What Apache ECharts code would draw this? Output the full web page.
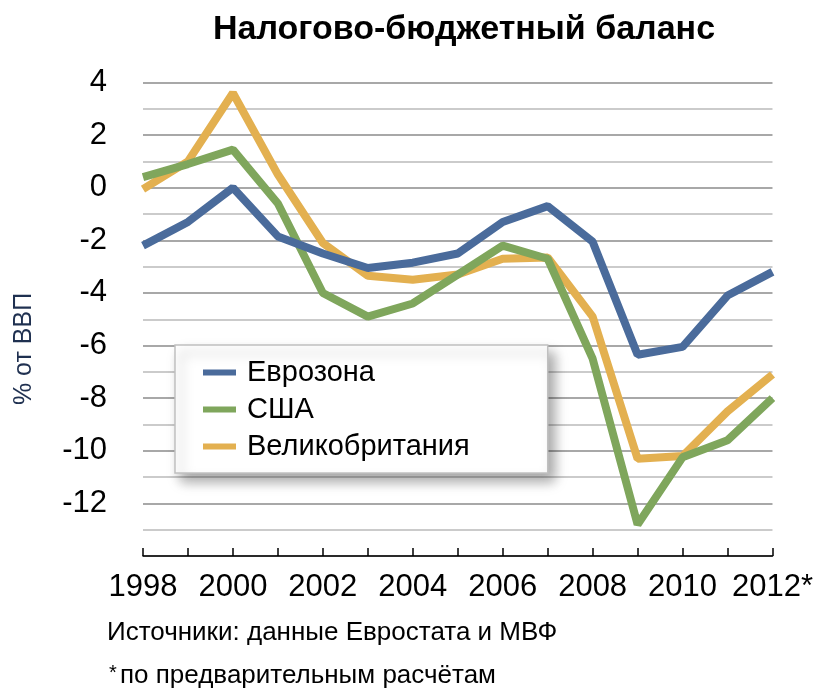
<!DOCTYPE html>
<html>
<head>
<meta charset="utf-8">
<script src="https://cdn.jsdelivr.net/npm/echarts@6/dist/echarts.min.js"></script>
<style>
html,body{margin:0;padding:0;background:#fff;}
#c{width:816px;height:695px;}
</style>
</head>
<body>
<div id="c"></div>
<script>
var years = ['1998','1999','2000','2001','2002','2003','2004','2005','2006','2007','2008','2009','2010','2011','2012*'];
var eurozone = [-2.2,-1.3,0.0,-1.85,-2.5,-3.05,-2.85,-2.5,-1.3,-0.7,-2.05,-6.35,-6.05,-4.1,-3.2];
var usa = [0.4,0.9,1.45,-0.6,-4.0,-4.9,-4.4,-3.3,-2.2,-2.7,-6.5,-12.8,-10.25,-9.6,-8.0];
var uk = [-0.05,1.0,3.6,0.5,-2.1,-3.35,-3.5,-3.3,-2.7,-2.65,-4.9,-10.3,-10.2,-8.5,-7.1];
var seriesNames = ['Еврозона','США','Великобритания'];
var colors = ['#4A6B9B','#7FA65C','#E3B050'];

var chart = echarts.init(document.getElementById('c'));
var font = '"Liberation Sans", Arial, sans-serif';
chart.setOption({
  animation: false,
  textStyle: {fontFamily: font},
  title: {
    text: 'Налогово-бюджетный баланс',
    left: 459, top: 8, textAlign: 'center',
    textStyle: {fontSize: 34, fontWeight: 'bold', color: '#000', fontFamily: font}
  },
  grid: {left: 143, right: 41, top: 82.5, bottom: 139, containLabel: false},
  legend: {
    orient: 'vertical',
    left: 175, top: 345,
    data: seriesNames,
    icon: 'rect',
    itemWidth: 33, itemHeight: 6,
    itemGap: 8,
    padding: [13, 78, 12, 28],
    backgroundColor: '#fff',
    borderColor: '#c0c0c0',
    borderWidth: 1.5,
    shadowBlur: 12,
    shadowOffsetX: 6,
    shadowOffsetY: 8,
    shadowColor: 'rgba(0,0,0,0.35)',
    textStyle: {fontSize: 29, color: '#000', fontFamily: font, padding: [0,0,0,6]}
  },
  xAxis: {
    type: 'category',
    data: years,
    boundaryGap: false,
    axisLine: {onZero: false, lineStyle: {color: '#000', width: 1.5}},
    axisTick: {show: true, inside: true, length: 8, interval: 0, lineStyle: {color: '#000', width: 1.5}},
    axisLabel: {interval: 1, fontSize: 31, color: '#000', margin: 16, fontFamily: font},
    splitLine: {show: false}
  },
  yAxis: {
    type: 'value',
    min: -14, max: 4, interval: 1,
    axisLine: {show: false},
    axisTick: {show: false},
    axisLabel: {
      fontSize: 31, color: '#000', margin: 36, fontFamily: font,
      formatter: function(v){ return (v % 2 === 0 && v !== -14) ? String(v) : ''; }
    },
    splitLine: {show: true, lineStyle: {color: ['#a8a8a8','#cbcbcb'], width: 2}}
  },
  graphic: [
    {
      type: 'text', x: 24, y: 349, rotation: Math.PI/2,
      style: {text: '% от ВВП', fontSize: 25, fill: '#1F3050', fontFamily: font, textAlign: 'center', textVerticalAlign: 'middle'}
    },
    {
      type: 'text', left: 107, top: 620,
      style: {text: 'Источники: данные Евростата и МВФ', fontSize: 26, fill: '#000', fontFamily: font}
    },
    {
      type: 'text', left: 109, top: 663,
      style: {text: '*', fontSize: 20, fill: '#000', fontFamily: font}
    },
    {
      type: 'text', left: 120, top: 663,
      style: {text: 'по предварительным расчётам', fontSize: 26, fill: '#000', fontFamily: font}
    }
  ],
  series: [
    {name: seriesNames[0], type: 'line', data: eurozone, symbol: 'none', color: colors[0], lineStyle: {width: 8, color: colors[0]}, z: 4},
    {name: seriesNames[1], type: 'line', data: usa, symbol: 'none', color: colors[1], lineStyle: {width: 8, color: colors[1]}, z: 3},
    {name: seriesNames[2], type: 'line', data: uk, symbol: 'none', color: colors[2], lineStyle: {width: 8, color: colors[2]}, z: 2}
  ]
});
</script>
</body>
</html>
